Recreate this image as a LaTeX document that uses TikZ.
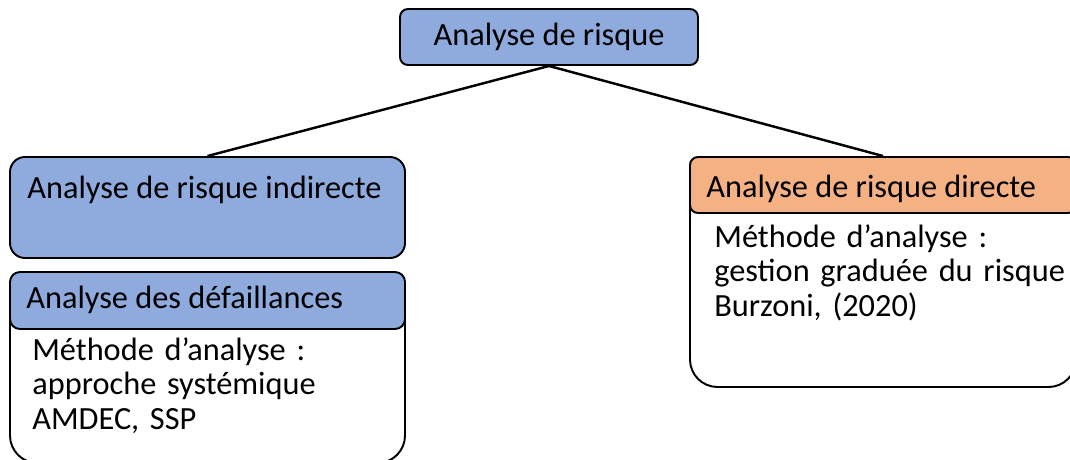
\documentclass[tikz,border=0pt]{standalone}
\usepackage{fontspec}
\setmainfont{Carlito}
\definecolor{riskblue}{HTML}{8FAADC}
\definecolor{riskorange}{HTML}{F4B183}
\usepackage{tikz}
\usetikzlibrary{positioning}

\begin{document}
\begin{tikzpicture}[
			rbox/.style={draw=black, line width=1.1pt, inner sep=0pt},
			txt/.style={inner sep=0pt, align=left, font=\fontsize{18.4pt}{19.8pt}\selectfont},
			link/.style={line width=1.4pt, black}
		]
			\useasboundingbox (0,0) rectangle (21.4,-9.18);
			% boites principales
			\node[rbox, fill=riskblue, rounded corners=0.16cm, minimum width=5.96cm, minimum height=1.12cm,
				font=\fontsize{18.4pt}{19.8pt}\selectfont] (root) at (10.98,-0.74) {Analyse de risque};
			\node[rbox, fill=riskblue, rounded corners=0.3cm, minimum width=7.9cm, minimum height=2.02cm] (ind) at (4.15,-4.15) {};
			\node[rbox, fill=white, rounded corners=0.55cm, minimum width=7.9cm, minimum height=3.82cm] (failbody) at (4.15,-7.35) {};
			\node[rbox, fill=riskblue, rounded corners=0.2cm, minimum width=7.9cm, minimum height=1.14cm] (failhead) at (4.15,-6.01) {};
			\node[rbox, fill=white, rounded corners=0.55cm, minimum width=7.72cm, minimum height=4.6cm] (dirbody) at (17.66,-5.44) {};
			\node[rbox, fill=riskorange, rounded corners=0.16cm, minimum width=7.72cm, minimum height=1.12cm] (dirhead) at (17.66,-3.70) {};
			% textes
			\node[txt, anchor=base west] (indtxt) at (0.54,-3.96) {Analyse de risque indirecte};
			\node[txt, anchor=base west] (failtxt) at (0.52,-6.16) {Analyse des défaillances};
			\node[txt, anchor=base west, text width=9cm] (failmeth) at (0.64,-7.20)
				{Méthode d’analyse :\\approche systémique\\AMDEC, SSP};
			\node[txt, anchor=base west] (dirtxt) at (14.12,-3.94) {Analyse de risque directe};
			\node[txt, anchor=base west, text width=9cm] (dirmeth) at (14.28,-4.94)
				{Méthode d’analyse :\\gestion graduée du risque\\Burzoni, (2020)};
			% liens
			\draw[link] (root.south) -- (ind.north);
			\draw[link] (root.south) -- (dirhead.north);
		\end{tikzpicture}
\end{document}
